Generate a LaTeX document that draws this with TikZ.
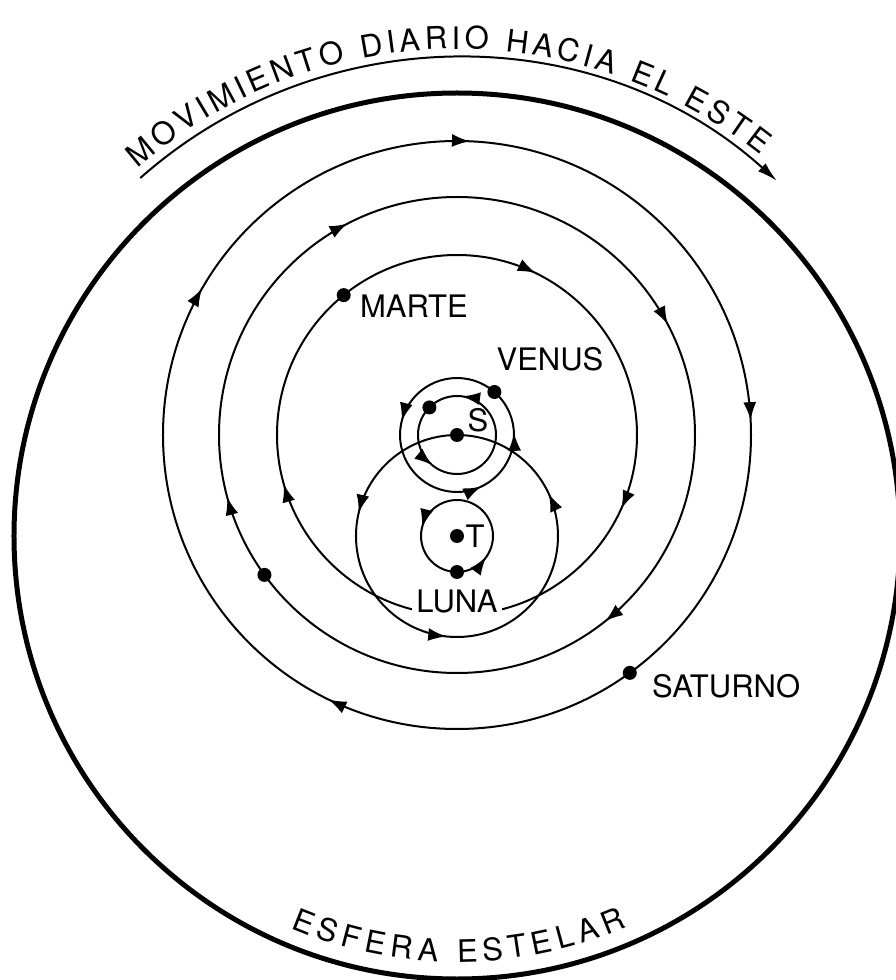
\documentclass[tikz,border=0pt]{standalone}
\usepackage{fontspec}
\setmainfont{TeX Gyre Heros}
\usetikzlibrary{arrows.meta, positioning, decorations.markings, decorations.text}

\newcommand{\lblfont}{\fontsize{31}{31}\selectfont}

\begin{document}
\begin{tikzpicture}[
    x=1pt, y=1pt,
    body/.style={circle, fill=black, inner sep=0pt, minimum size=14pt},
    orbit/.style={line width=2pt, draw=black},
    sphere/.style={line width=5pt, draw=black},
    arr/.style={-{Latex[length=20pt, width=11pt]}, line width=2pt},
    arrowat/.style={postaction={decorate, decoration={markings,
        mark=at position #1 with {\arrow{Latex[length=18pt, width=13pt]}}}}},
    lbl/.style={font=\lblfont, inner sep=1pt}
]

\useasboundingbox (-457,-444) rectangle (438,536);

%% Earth and Sun
\node[body] (earth) at (0,0) {};
\node[body] (sun)   at (0,101) {};

%% Stellar sphere
\draw[sphere] (earth.center) circle[radius=443];

%% ── Orbits round the Sun (clockwise) ────────────────────────────
\draw[orbit, arrowat=0.757, arrowat=0.583, arrowat=0.992, arrowat=0.322]
    (sun.center) ++(0:294) arc[start angle=0, end angle=-360, radius=294];
\draw[orbit, arrowat=0.674, arrowat=0.458, arrowat=0.923, arrowat=0.143]
    (sun.center) ++(0:238) arc[start angle=0, end angle=-360, radius=238];
\draw[orbit, arrowat=0.822, arrowat=0.456, arrowat=0.067]
    (sun.center) ++(0:180) arc[start angle=0, end angle=-360, radius=180];

%% ── Inner orbits (counterclockwise) ─────────────────────────────
\draw[orbit, arrowat=0.46, arrowat=0.006, arrowat=0.82]
    (sun.center) ++(0:57) arc[start angle=0, end angle=360, radius=57];
\draw[orbit, arrowat=0.229, arrowat=0.641]
    (sun.center) ++(0:39) arc[start angle=0, end angle=360, radius=39];
\draw[orbit, arrowat=0.463, arrowat=0.069, arrowat=0.733]
    (earth.center) ++(0:101) arc[start angle=0, end angle=360, radius=101];
\draw[orbit, arrowat=0.46, arrowat=0.9]
    (earth.center) ++(0:36) arc[start angle=0, end angle=360, radius=36];

%% Planets
\node[body] (mercury) at ([shift={(135:39)}]sun.center) {};
\node[body] (venus)   at ([shift={(49:57)}]sun.center) {};
\node[body] (mars)    at ([shift={(129:180)}]sun.center) {};
\node[body] (jupiter) at ([shift={(216:238)}]sun.center) {};
\node[body] (saturn)  at ([shift={(306:294)}]sun.center) {};
\node[body] (moon)    at ([shift={(270:36)}]earth.center) {};

%% Labels
\node[lbl, right=8pt of mars, yshift=-11pt] (martelbl) {MARTE};
\node[lbl] (venuslbl) at (93,177) {VENUS};
\node[lbl] (sunlbl)   at (21,116) {S};
\node[lbl] (earthlbl) at (18,0)   {T};
\node[lbl, fill=white, inner sep=4pt] (lunalbl) at (0,-65) {LUNA};
\node[lbl, right=14pt of saturn, yshift=-13pt] (saturnlbl) {SATURNO};

%% ── Daily motion ────────────────────────────────────────────────
\draw[arr] (131.5:478) arc[start angle=131.5, end angle=48, radius=478];
\path[decorate, decoration={text along path, text align=fit to path,
    text={|\lblfont|MOVIMIENTO DIARIO HACIA EL ESTE}}]
    (131:487) arc[start angle=131, end angle=51.5, radius=487];

%% Sphere name
\path[decorate, decoration={text along path, text align=fit to path,
    text={|\lblfont|ESFERA ESTELAR}}]
    (247:426) arc[start angle=247, end angle=293.5, radius=426];

\end{tikzpicture}
\end{document}
